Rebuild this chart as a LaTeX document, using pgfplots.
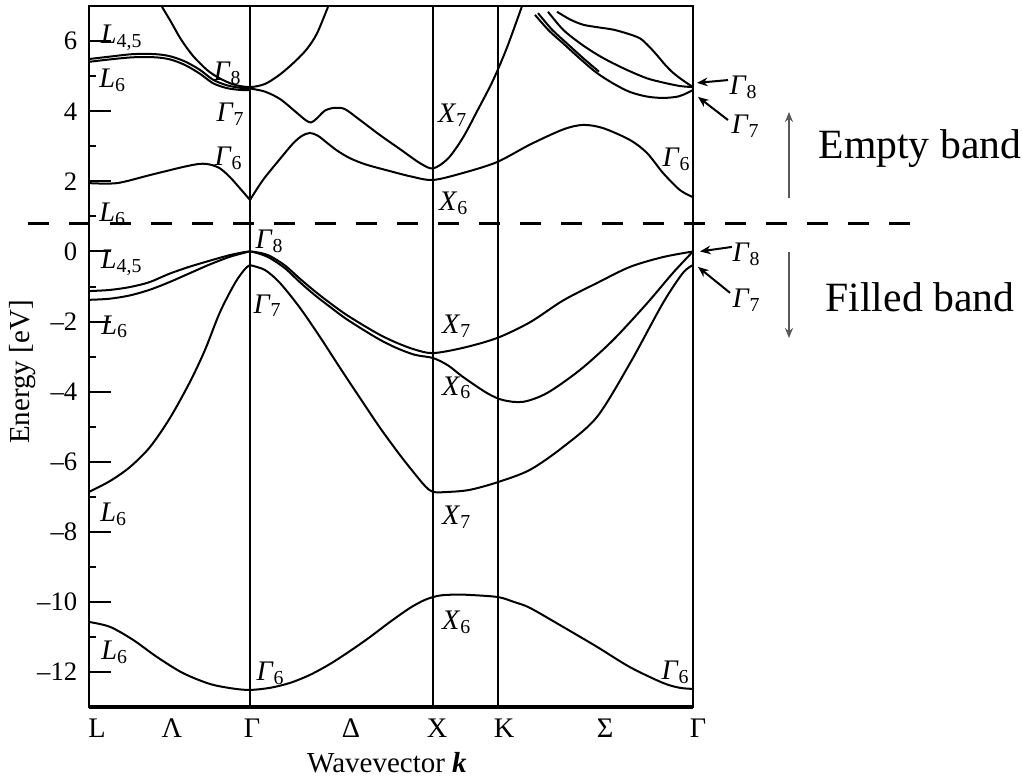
\documentclass[border=0pt]{standalone}
\usepackage{fontspec}
\setmainfont{Liberation Serif}
\usepackage{pgfplots}
\pgfplotsset{compat=1.18}
\usetikzlibrary{arrows.meta}

% band-symmetry label: italic letter with subscript
\newcommand{\sym}[2]{\textit{#1}\textsubscript{#2}}

\begin{document}
\begin{tikzpicture}[
  band/.style={black, line width=0.6pt, smooth, tension=0.5},
  lab/.style={font=\fontsize{8.5}{9}\selectfont, inner sep=0pt},
  ptr/.style={black, line width=0.6pt, -{Stealth[length=3.2pt,width=2.6pt]}},
  side/.style={black!65, line width=0.6pt, -{Stealth[length=3pt,width=2.4pt]}},
]
\begin{axis}[
  scale only axis, width=181.2pt, height=210.3pt,
  xmin=0, xmax=604, ymin=-13, ymax=7,
  clip=false,
  axis line style={line width=0.7pt},
  xtick={8,83,163,262,348,415,516,604},
  xticklabels={L,Λ,Γ,Δ,X,K,Σ,\hspace{3pt}Γ},
  x tick style={draw=none},
  ytick={-12,-10,...,6},
  yticklabels={–12,–10,–8,–6,–4,–2,0,2,4,6},
  minor ytick={-11,-9,...,5},
  ytick pos=left, tick align=inside,
  major tick length=6.6pt, minor tick length=2.1pt,
  tick style={black, line width=0.6pt},
  x tick label style={font=\fontsize{8.5}{9}\selectfont},
  y tick label style={font=\fontsize{8}{9}\selectfont},
]
% high-symmetry points Gamma, X, K
\addplot[black, line width=0.5pt] coordinates {(161,-13) (161,7)};
\addplot[black, line width=0.5pt] coordinates {(344,-13) (344,7)};
\addplot[black, line width=0.5pt] coordinates {(409,-13) (409,7)};
\draw[line width=1.1pt] (axis cs:0,-13) -- (axis cs:604,-13);

% lowest valence band
\addplot[band] coordinates {(0,-10.57) (21,-10.71) (44,-11.08) (68,-11.57) (94,-12.03) (121,-12.34) (144,-12.47) (161,-12.51) (181,-12.45) (201,-12.31) (221,-12.08) (241,-11.77) (261,-11.40) (281,-11.00) (301,-10.57) (321,-10.17) (336,-9.94) (350,-9.82) (366,-9.79) (381,-9.80) (409,-9.86) (425,-10.00) (441,-10.17) (474,-10.71) (508,-11.28) (541,-11.86) (574,-12.31) (591,-12.45) (604,-12.48)};

% split-off band
\addplot[band] coordinates {(0,-6.86) (21,-6.55) (41,-6.15) (61,-5.58) (81,-4.75) (101,-3.72) (116,-2.81) (131,-1.73) (146,-0.90) (156,-0.50) (161,-0.39)};
\addplot[band] coordinates {(161,-0.39) (176,-0.53) (191,-0.90) (211,-1.61) (231,-2.44) (251,-3.32) (271,-4.18) (291,-5.03) (311,-5.81) (326,-6.35) (336,-6.69) (344,-6.86) (360,-6.86) (381,-6.80) (409,-6.58) (441,-6.23) (474,-5.58) (508,-4.72) (541,-3.19) (574,-1.47) (594,-0.61) (604,-0.39)};

% heavy- and light-hole bands
\addplot[band] coordinates {(0,-1.13) (20,-1.10) (40,-1.02) (60,-0.88) (80,-0.64) (100,-0.44) (120,-0.27) (140,-0.11) (155,-0.02) (161,0) (171,-0.04) (181,-0.13) (196,-0.40) (211,-0.78) (226,-1.14) (241,-1.47) (256,-1.78) (274,-2.10) (291,-2.38) (308,-2.61) (326,-2.80) (344,-2.90) (374,-2.75) (408,-2.47) (441,-2.02) (474,-1.40) (508,-0.90) (541,-0.44) (574,-0.16) (604,0)};
\addplot[band] coordinates {(0,-1.38) (20,-1.35) (40,-1.26) (60,-1.10) (80,-0.88) (100,-0.63) (120,-0.38) (140,-0.16) (155,-0.04) (161,0) (171,-0.07) (181,-0.19) (196,-0.48) (211,-0.88) (226,-1.25) (241,-1.58) (256,-1.90) (274,-2.23) (291,-2.52) (308,-2.76) (326,-2.95) (344,-3.04) (359,-3.25) (374,-3.58) (398,-4.04) (414,-4.24) (434,-4.29) (458,-4.04) (491,-3.38) (524,-2.53) (558,-1.48) (584,-0.61) (604,0)};

% lowest conduction band
\addplot[band] coordinates {(0,1.95) (28,1.95) (61,2.18) (94,2.41) (111,2.50) (121,2.48) (131,2.37) (141,2.12) (151,1.80) (161,1.47)};
\addplot[band] coordinates {(161,1.47) (174,2.04) (191,2.64) (204,3.08) (213,3.30) (221,3.38) (229,3.30) (238,3.10) (248,2.88) (261,2.66) (277,2.48) (300,2.30) (322,2.14) (344,2.04) (374,2.24) (408,2.55) (441,3.05) (474,3.48) (494,3.61) (514,3.52) (541,3.18) (558,2.81) (574,2.24) (591,1.75) (604,1.55)};

% upper conduction bands
\addplot[band] coordinates {(0,5.49) (21,5.56) (44,5.63) (66,5.63) (81,5.57) (96,5.42) (111,5.18) (124,4.90) (138,4.74) (151,4.67) (161,4.65)};
\addplot[band] coordinates {(0,5.41) (21,5.48) (44,5.54) (66,5.54) (81,5.48) (96,5.32) (111,5.07) (124,4.80) (138,4.66) (151,4.61) (161,4.60)};
\addplot[band] coordinates {(161,4.65) (176,4.56) (191,4.35) (206,4.00) (216,3.76) (222,3.68) (228,3.80) (236,4.02) (246,4.10) (256,4.06) (271,3.75) (291,3.32) (311,2.92) (331,2.52) (344,2.37) (359,2.65) (374,3.25) (389,4.05) (404,4.88) (418,5.82) (433,7.0)};
\addplot[band] coordinates {(73,6.98) (82,6.55) (92,6.05) (104,5.58) (118,5.18) (130,4.95) (145,4.76) (161,4.69) (176,4.78) (191,5.05) (206,5.42) (218,5.78) (228,6.22) (239,6.98)};
\addplot[band] coordinates {(446,6.75) (460,6.30) (474,5.94) (491,5.50) (508,5.09) (525,4.78) (541,4.55) (558,4.42) (574,4.38) (589,4.42) (598,4.52) (604,4.61)};
\addplot[band] coordinates {(449,6.80) (463,6.33) (477,5.96) (494,5.52) (510,5.13)};
\addplot[band] coordinates {(459,6.84) (474,6.33) (491,5.94) (508,5.62) (524,5.37) (541,5.14) (558,4.94) (574,4.82) (591,4.72) (604,4.69)};
\addplot[band] coordinates {(468,6.84) (481,6.62) (494,6.47) (508,6.40) (524,6.33) (538,6.22) (551,6.08) (560,5.85) (568,5.60) (576,5.33) (584,5.10) (594,4.88) (604,4.69)};

% band gap separator
\addplot[black, line width=0.9pt, dash pattern=on 6.3pt off 6pt] coordinates {(-61,0.79) (829,0.79)};

% symmetry labels
\node[lab] at (axis cs:33,6.09) {\sym{L}{4,5}};
\node[lab] at (axis cs:24,4.89) {\sym{L}{6}};
\node[lab] at (axis cs:139,5.09) {\sym{Γ}{8}};
\node[lab] at (axis cs:142,3.92) {\sym{Γ}{7}};
\node[lab] at (axis cs:140,2.67) {\sym{Γ}{6}};
\node[lab] at (axis cs:24,1.07) {\sym{L}{6}};
\node[lab] at (axis cs:181,0.30) {\sym{Γ}{8}};
\node[lab] at (axis cs:33,-0.33) {\sym{L}{4,5}};
\node[lab] at (axis cs:26,-2.15) {\sym{L}{6}};
\node[lab] at (axis cs:179,-1.55) {\sym{Γ}{7}};
\node[lab] at (axis cs:368,-2.13) {\sym{X}{7}};
\node[lab] at (axis cs:368,-3.89) {\sym{X}{6}};
\node[lab] at (axis cs:25,-7.49) {\sym{L}{6}};
\node[lab] at (axis cs:368,-7.58) {\sym{X}{7}};
\node[lab] at (axis cs:368,-10.57) {\sym{X}{6}};
\node[lab] at (axis cs:26,-11.43) {\sym{L}{6}};
\node[lab] at (axis cs:182,-12.03) {\sym{Γ}{6}};
\node[lab] at (axis cs:587,-12.0) {\sym{Γ}{6}};
\node[lab] at (axis cs:364,3.89) {\sym{X}{7}};
\node[lab] at (axis cs:365,1.38) {\sym{X}{6}};
\node[lab] at (axis cs:588,2.64) {\sym{Γ}{6}};

% pointers at the zone-centre states
\node[lab] at (axis cs:655,4.69) {\sym{Γ}{8}};
\node[lab] at (axis cs:657,3.58) {\sym{Γ}{7}};
\node[lab] at (axis cs:658,-0.07) {\sym{Γ}{8}};
\node[lab] at (axis cs:658,-1.38) {\sym{Γ}{7}};
\draw[ptr] (axis cs:639,4.89) -- (axis cs:608,4.81);
\draw[ptr] (axis cs:639,3.75) -- (axis cs:609,4.41);
\draw[ptr] (axis cs:643,0.13) -- (axis cs:611,0.0);
\draw[ptr] (axis cs:641,-1.18) -- (axis cs:609,-0.44);

% empty / filled band markers
\draw[side] (axis cs:700,1.53) -- (axis cs:700,3.98);
\draw[side] (axis cs:700,-0.01) -- (axis cs:700,-2.47);
\node[anchor=west, inner sep=0pt, font=\fontsize{12.5}{14}\selectfont] at (axis cs:729,2.95) {Empty band};
\node[anchor=west, inner sep=0pt, font=\fontsize{12.5}{14}\selectfont] at (axis cs:736,-1.30) {Filled band};

% axis titles
\node[rotate=90, inner sep=0pt, font=\fontsize{8.7}{10}\selectfont] at (axis cs:-66,-3.44) {Energy [eV]};
\node[inner sep=0pt, font=\fontsize{8.7}{10}\selectfont] at (axis cs:298,-14.59) {Wavevector \textbf{\textit{k}}};

\coordinate (bbsw) at (axis cs:-89,-15.05);
\coordinate (bbne) at (axis cs:933,7.175);
\end{axis}
\pgfresetboundingbox
\path[use as bounding box] (bbsw) rectangle (bbne);
\end{tikzpicture}
\end{document}
